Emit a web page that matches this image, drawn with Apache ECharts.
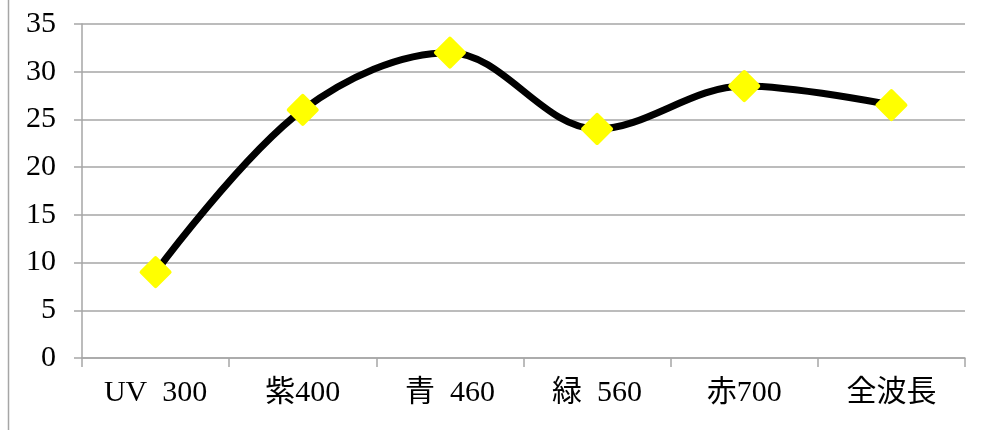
<!DOCTYPE html>
<html>
<head>
<meta charset="utf-8">
<script src="https://cdn.jsdelivr.net/npm/echarts@6/dist/echarts.min.js"></script>
<style>
  html, body { margin: 0; padding: 0; background: #ffffff; }
  #chart { width: 982px; height: 430px; }
</style>
</head>
<body>
<div id="chart"></div>
<script>
// Wavelength bands on the category axis
const categories = ['UV 300', '紫400', '青 460', '緑 560', '赤700', '全波長'];
// Measured value for each band
const values = [9, 26, 32, 24, 28.5, 26.5];
// Value axis range and step
const yMin = 0;
const yMax = 35;
const yStep = 5;

const FONT = "'Liberation Serif', 'Noto Sans CJK JP', serif";
const GRAY = '#a6a6a6';

const chart = echarts.init(document.getElementById('chart'), null, { renderer: 'canvas' });

chart.setOption({
  animation: false,
  backgroundColor: '#ffffff',
  grid: { left: 82, right: 17, top: 24, bottom: 72 },
  graphic: [{
    type: 'line',
    shape: { x1: 8.5, y1: 0, x2: 8.5, y2: 430 },
    style: { stroke: GRAY, lineWidth: 1.5 }
  }],
  xAxis: {
    type: 'category',
    data: categories,
    boundaryGap: true,
    axisLine: { show: true, lineStyle: { color: GRAY, width: 1.5 } },
    axisTick: { show: true, length: 9, alignWithLabel: false, lineStyle: { color: GRAY, width: 1.5 } },
    axisLabel: {
      margin: 20,
      color: '#000000',
      fontFamily: FONT,
      fontSize: 30,
      formatter: v => v.replace(' ', '\u2002')
    }
  },
  yAxis: {
    type: 'value',
    min: yMin,
    max: yMax,
    interval: yStep,
    axisLine: { show: true, lineStyle: { color: GRAY, width: 1.5 } },
    axisTick: { show: true, length: 8, lineStyle: { color: GRAY, width: 1.5 } },
    splitLine: { show: true, lineStyle: { color: GRAY, width: 1.5 } },
    axisLabel: {
      margin: 26,
      color: '#000000',
      fontFamily: FONT,
      fontSize: 30
    }
  },
  series: [{
    type: 'line',
    data: values,
    smooth: 0.35,
    symbol: 'diamond',
    symbolSize: 28,
    lineStyle: { color: '#000000', width: 7, cap: 'round', join: 'round' },
    itemStyle: { color: '#ffff00', borderColor: '#ffff00', borderWidth: 4, borderJoin: 'round' }
  }]
});
</script>
</body>
</html>
